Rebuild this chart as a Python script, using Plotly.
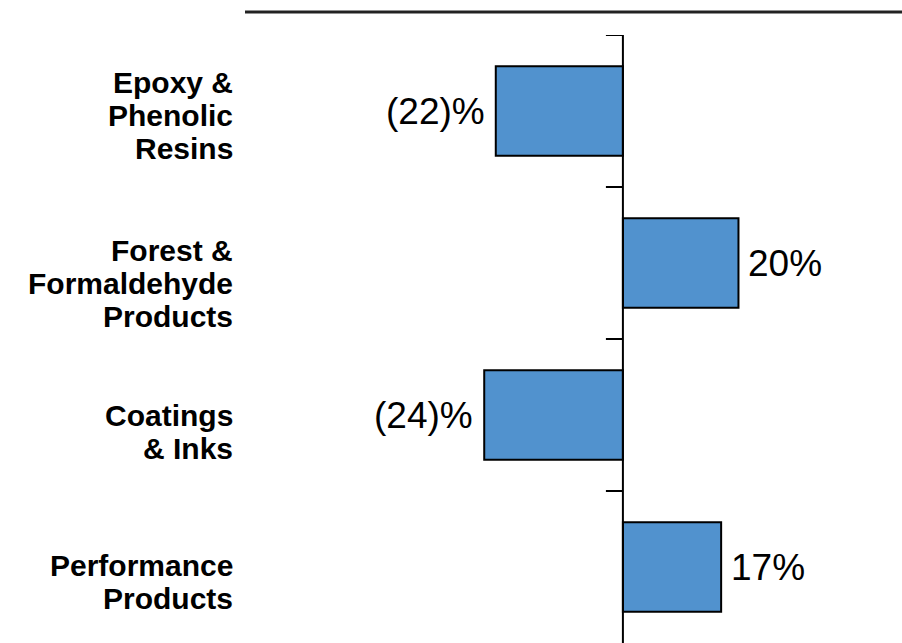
import plotly.graph_objects as go

# Segment names (top to bottom) and year-over-year change in percent
segments = [
    "Epoxy &<br>Phenolic<br>Resins",
    "Forest &<br>Formaldehyde<br>Products",
    "Coatings<br>& Inks",
    "Performance<br>Products",
]
change_pct = [-22, 20, -24, 17]

# vertical nudge (px) of each segment's label block relative to its row
label_nudge = [4, 20, 17, 15]

BAR_COLOR = "#5192CE"
FONT = "Liberation Sans, Arial, sans-serif"
LINE_GAP = 33  # px between label lines

positions = list(range(len(segments)))

fig = go.Figure(
    go.Bar(
        x=change_pct,
        y=positions,
        orientation="h",
        width=0.59,
        marker=dict(color=BAR_COLOR, line=dict(color="black", width=2)),
        hoverinfo="skip",
    )
)


def pct_label(v):
    return f"({abs(v)})%" if v < 0 else f"{v}%"


annotations = []
for i, (name, v) in enumerate(zip(segments, change_pct)):
    # value label beside each bar
    annotations.append(dict(
        x=v, y=i, xref="x", yref="y",
        text=pct_label(v), showarrow=False,
        xanchor="left" if v > 0 else "right",
        xshift=8 if v > 0 else -9,
        font=dict(family=FONT, size=37, color="black"),
    ))
    # segment name, one annotation per line, right-aligned at the left edge
    lines = name.split("<br>")
    n = len(lines)
    for k, line in enumerate(lines):
        offset = (k - (n - 1) / 2) * LINE_GAP + label_nudge[i]
        annotations.append(dict(
            x=-0.0155, y=i, xref="paper", yref="y",
            text=f"<b>{line}</b>", showarrow=False,
            xanchor="right", yanchor="middle",
            yshift=-offset,
            font=dict(family=FONT, size=30, color="black"),
        ))

shapes = [
    # rule across the top
    dict(type="line", xref="paper", yref="paper",
         x0=0, x1=1, y0=1.038, y1=1.038,
         line=dict(color="#222222", width=3)),
    # zero axis line
    dict(type="line", xref="x", yref="y",
         x0=0, x1=0, y0=-0.5, y1=len(segments) - 0.5,
         line=dict(color="black", width=2)),
]
# tick marks at row boundaries, pointing left from the zero line
for b in range(len(segments)):
    shapes.append(dict(
        type="line", xref="x", yref="y",
        xsizemode="pixel", xanchor=0, x0=-17, x1=0,
        y0=b - 0.5, y1=b - 0.5,
        line=dict(color="black", width=2),
    ))

fig.update_layout(
    width=902, height=643,
    margin=dict(l=245, r=0, t=35, b=0),
    paper_bgcolor="white", plot_bgcolor="white",
    showlegend=False,
    xaxis=dict(range=[-65.4, 48.3], visible=False, fixedrange=True),
    yaxis=dict(range=[len(segments) - 0.5, -0.5], visible=False, fixedrange=True),
    annotations=annotations,
    shapes=shapes,
)

fig.write_html("out.html")
